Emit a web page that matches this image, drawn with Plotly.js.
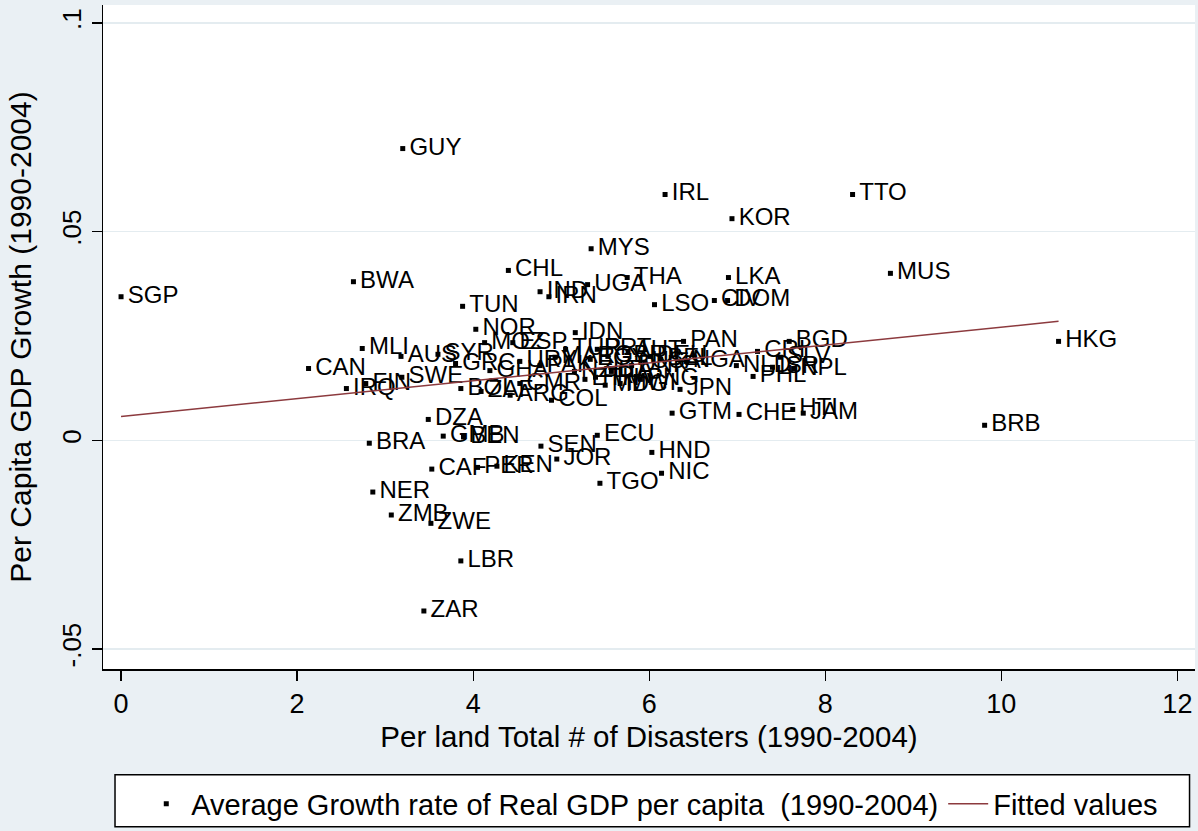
<!DOCTYPE html>
<html>
<head>
<meta charset="utf-8">
<script src="https://cdn.plot.ly/plotly-3.0.1.min.js"></script>
<style>html,body{margin:0;padding:0;background:#eaf0f4;}</style>
</head>
<body>
<div id="chart" style="width:1198px;height:831px;"></div>
<script>
// Country codes
const countries = [
  "SGP","CAN","IRQ","FIN","MLI","BWA","BRA","NER","ZMB","GUY",
  "AUS","SWE","ZWE","ZAR","DZA","CAF","GMB","BEN","TUN","BOL",
  "LBR","NOR","PER","KEN","SYR","GRC","GHA","MOZ","ESP","IDN",
  "TUR","URY","PAK","MAR","EGY","CMR","COL","ZAF","ARG","PRT",
  "GBR","AUT","DEU","USA","ITA","DNK","NZL","FRA","BEL","MWI",
  "MDG","ETH","PNG","JPN","GTM","PAN","BGD","CRI","NGA","NLD",
  "PHL","ISR","NPL","SLV","HKG","BRB","CHE","HTI","JAM","MUS",
  "TTO","KOR","IRL","LKA","CIV","DOM","LSO","MYS","THA","UGA",
  "CHL","IND","IRN","SEN","JOR","ECU","HND","NIC","TGO"
];
// Per land total # of disasters (1990-2004)
const disasters = [
  0.00, 2.13, 2.56, 2.78, 2.74, 2.64, 2.82, 2.86, 3.07, 3.20,
  3.18, 3.19, 3.52, 3.44, 3.49, 3.53, 3.66, 3.89, 3.88, 3.86,
  3.86, 4.03, 4.05, 4.27, 3.60, 3.80, 4.19, 4.13, 4.45, 5.16,
  5.05, 4.53, 4.76, 4.93, 5.33, 4.53, 4.89, 4.09, 4.42, 5.41,
  5.53, 5.76, 6.01, 5.95, 5.57, 5.80, 5.15, 5.39, 6.13, 5.67,
  5.50, 5.27, 5.90, 6.35, 6.26, 6.39, 7.59, 7.23, 6.42, 6.99,
  7.18, 7.40, 7.64, 7.49, 10.65, 9.81, 7.02, 7.63, 7.75, 8.74,
  8.31, 6.94, 6.18, 6.90, 6.74, 6.89, 6.06, 5.34, 5.75, 5.30,
  4.40, 4.76, 4.86, 4.77, 4.95, 5.41, 6.03, 6.14, 5.44
];
// Average growth rate of real GDP per capita (1990-2004)
const growth = [
  0.0344, 0.0172, 0.0124, 0.0136, 0.0220, 0.0380, -0.0007, -0.0124, -0.0179, 0.0699,
  0.0201, 0.0151, -0.0199, -0.0409, 0.0050, -0.0069, 0.0010, 0.0008, 0.0321, 0.0124,
  -0.0289, 0.0266, -0.0065, -0.0062, 0.0206, 0.0184, 0.0167, 0.0234, 0.0234, 0.0258,
  0.0218, 0.0189, 0.0179, 0.0199, 0.0194, 0.0136, 0.0096, 0.0117, 0.0108, 0.0218,
  0.0201, 0.0213, 0.0201, 0.0187, 0.0165, 0.0179, 0.0165, 0.0151, 0.0194, 0.0136,
  0.0132, 0.0146, 0.0146, 0.0122, 0.0065, 0.0237, 0.0237, 0.0213, 0.0189, 0.0179,
  0.0153, 0.0175, 0.0172, 0.0199, 0.0237, 0.0036, 0.0062, 0.0074, 0.0065, 0.0400,
  0.0589, 0.0531, 0.0589, 0.0390, 0.0335, 0.0335, 0.0325, 0.0459, 0.0390, 0.0373,
  0.0407, 0.0356, 0.0344, -0.0014, -0.0045, 0.0012, -0.0029, -0.0079, -0.0103
];
// Fitted values (endpoints)
const fitX = [0, 10.65];
const fitY = [0.0057, 0.0285];

const xTickVals = [0, 2, 4, 6, 8, 10, 12];
const xTickText = ["0", "2", "4", "6", "8", "10", "12"];
const yTickVals = [-0.05, 0, 0.05, 0.1];
const yTickText = ["-.05", "0", ".05", ".1"];

const FONT = "'Liberation Sans', Arial, sans-serif";

const traces = [
  {
    type: "scatter", mode: "markers",
    x: disasters, y: growth,
    name: "Average Growth rate of Real GDP per capita \u00a0(1990-2004)",
    marker: {symbol: "square", size: 5, color: "#000000"},
    hoverinfo: "skip"
  },
  {
    type: "scatter", mode: "text",
    x: disasters, y: growth, text: countries,
    texttemplate: "\u00a0%{text}",
    textposition: "middle right",
    textfont: {family: FONT, size: 24, color: "#000000"},
    showlegend: false, hoverinfo: "skip"
  },
  {
    type: "scatter", mode: "lines",
    x: fitX, y: fitY,
    name: "Fitted values",
    line: {color: "#8c3a3e", width: 1.5},
    hoverinfo: "skip"
  }
];

const layout = {
  width: 1198, height: 831,
  margin: {l: 103, r: 3, t: 5, b: 161, pad: 0},
  paper_bgcolor: "#eaf0f4",
  plot_bgcolor: "#ffffff",
  font: {family: FONT, color: "#000000"},
  showlegend: true,
  xaxis: {
    range: [-0.205, 12.2],
    tickvals: xTickVals, ticktext: xTickText,
    ticks: "outside", ticklen: 10, tickwidth: 1.3, tickcolor: "#000",
    tickfont: {size: 27, family: FONT},
    showgrid: false, zeroline: false,
    showline: true, linecolor: "#000", linewidth: 1.5,
    title: {text: "Per land Total # of Disasters (1990-2004)", font: {size: 29.5, family: FONT}, standoff: 8},
    automargin: false
  },
  yaxis: {
    range: [-0.0548, 0.1043],
    tickvals: yTickVals, ticktext: yTickText,
    tickangle: -90,
    ticks: "outside", ticklen: 10, tickwidth: 1.3, tickcolor: "#000",
    tickfont: {size: 26, family: FONT},
    showgrid: true, gridcolor: "#e4ecf0", gridwidth: 1.5,
    zeroline: false,
    showline: true, linecolor: "#000", linewidth: 1.5,
    title: {text: "Per Capita GDP Growth (1990-2004)", font: {size: 30, family: FONT}, standoff: 16},
    automargin: false
  },
  legend: {
    orientation: "h",
    x: 0.503, xanchor: "center",
    y: -0.163, yanchor: "top",
    bgcolor: "rgba(0,0,0,0)",
    borderwidth: 0,
    font: {size: 29, family: FONT},
    itemwidth: 40
  },
  shapes: [
    {
      type: "rect", xref: "paper", yref: "paper",
      x0: 0.011, x1: 0.995, y0: -0.2376, y1: -0.1594,
      fillcolor: "#ffffff", line: {color: "#000000", width: 1.5},
      layer: "below"
    }
  ]
};

Plotly.newPlot("chart", traces, layout, {displayModeBar: false, staticPlot: true});
</script>
</body>
</html>
